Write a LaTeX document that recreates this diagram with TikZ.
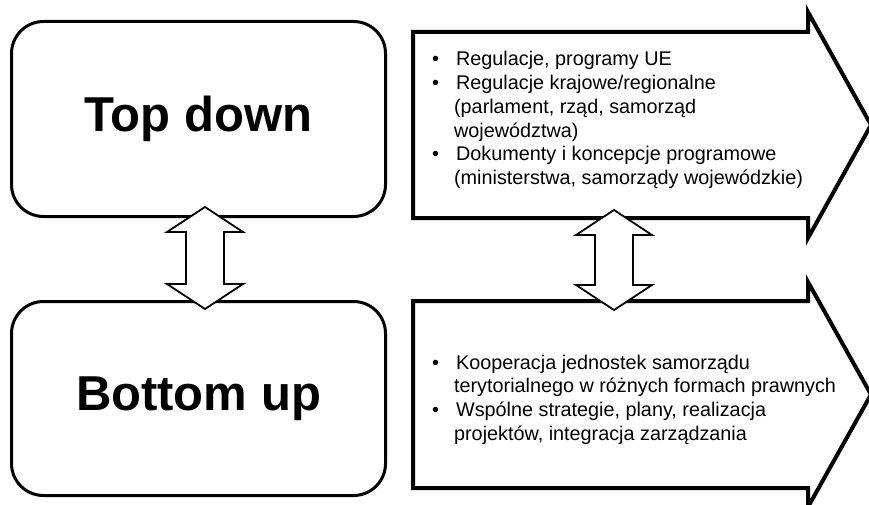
\documentclass[tikz,border=0pt]{standalone}
\usepackage{fontspec}
\setmainfont{Liberation Sans}
\usetikzlibrary{calc}
\tikzset{
	stage/.style={draw, line width=3pt, rounded corners=32pt, minimum width=374pt,
		minimum height=195pt, inner sep=0pt, font=\fontsize{49}{58}\selectfont\bfseries},
	flow/.style={draw, line width=4pt, line join=miter},
	points/.style={anchor=base west, inner sep=0pt, font=\fontsize{19.8}{23.7}\selectfont},
	link/.style={draw, fill=white, line width=1.8pt, line join=miter,
		to path={let \p1=(\tikztostart), \p2=(\tikztotarget) in
			-- (\x1+38pt,\y1-25pt) -- (\x1+19pt,\y1-25pt) -- (\x2+19pt,\y2+25pt)
			-- (\x2+38pt,\y2+25pt) -- (\x2,\y2) -- (\x2-38pt,\y2+25pt)
			-- (\x2-19pt,\y2+25pt) -- (\x1-19pt,\y1-25pt) -- (\x1-38pt,\y1-25pt) -- cycle}}
}
\begin{document}
\begin{tikzpicture}[x=1pt, y=1pt]
	\clip (0,0) rectangle (869,504);
	% the two levels
	\node[stage] (top) at (198.5,385) {Top down};
	\node[stage, minimum height=194pt] (bottom) at (198.5,105.5) {Bottom up};
	% big arrows on the right
	\draw[flow] (413,472) -- (808,472) -- (808,492) -- (871,379) -- (808,266) -- (808,286) -- (413,286) -- cycle;
	\draw[flow] (413,203) -- (808,203) -- (808,222) -- (871,109.5) -- (808,-3) -- (808,16) -- (413,16) -- cycle;
	\node[points] (tdlist) at (432,438) {\begin{tabular}[t]{@{}l@{\hspace{17pt}}l@{}}
		\textbullet & Regulacje, programy UE\\
		\textbullet & Regulacje krajowe/regionalne\\
		& \hspace{-2pt}(parlament, rząd, samorząd\\
		& \hspace{-2pt}województwa)\\
		\textbullet & Dokumenty i koncepcje programowe\\
		& \hspace{-2pt}(ministerstwa, samorządy wojewódzkie)
	\end{tabular}};
	\node[points] (bulist) at (432,135) {\begin{tabular}[t]{@{}l@{\hspace{17pt}}l@{}}
		\textbullet & Kooperacja jednostek samorządu\\
		& \hspace{-2pt}terytorialnego w różnych formach prawnych\\
		\textbullet & Wspólne strategie, plany, realizacja\\
		& \hspace{-2pt}projektów, integracja zarządzania
	\end{tabular}};
	% two-way links
	\draw[link] ([xshift=6.5pt,yshift=11pt]top.south) to ([xshift=6.5pt,yshift=-9pt]bottom.north);
	\coordinate (tdout) at (614,294);
	\coordinate (buout) at (614,194);
	\draw[link] (tdout) to (buout);
\end{tikzpicture}
\end{document}
